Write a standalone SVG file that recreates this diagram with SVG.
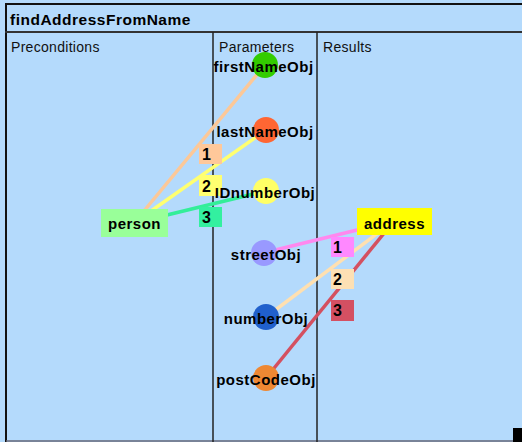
<svg xmlns="http://www.w3.org/2000/svg" width="522" height="442" viewBox="0 0 522 442">
<style>
.bg{fill:#b4dafc}
.frame{stroke:#111;stroke-width:2;fill:none}
.col{stroke:#222;stroke-width:1.5}
.title{font-family:"Liberation Sans",Arial,sans-serif;font-weight:bold;font-size:15.5px;letter-spacing:0.5px;fill:#000}
.head{font-family:"Liberation Sans",Arial,sans-serif;font-size:14px;letter-spacing:0.3px;fill:#111}
.lbl{font-family:"Liberation Sans",Arial,sans-serif;font-weight:bold;font-size:15px;letter-spacing:0.5px;fill:#000;text-anchor:middle}
.num{font-family:"Liberation Sans",Arial,sans-serif;font-weight:bold;font-size:16px;fill:#000}
.edge{stroke-width:3.5;fill:none}
</style>
<rect class="bg" x="0" y="0" width="522" height="442"/>
<line x1="5" y1="4" x2="522" y2="4" class="frame"/>
<line x1="6" y1="3" x2="6" y2="442" class="frame"/>
<line x1="5" y1="32" x2="522" y2="32" stroke="#333" stroke-width="2"/>
<line x1="6" y1="441" x2="522" y2="441" stroke="#667" stroke-width="1.5"/>
<line x1="213" y1="32" x2="213" y2="442" class="col"/>
<line x1="317" y1="32" x2="317" y2="442" class="col"/>
<rect x="513" y="428" width="9" height="14" fill="#000"/>
<text class="title" x="10" y="25">findAddressFromName</text>
<text class="head" x="11" y="52">Preconditions</text>
<text class="head" x="219" y="52">Parameters</text>
<text class="head" x="323" y="52">Results</text>

<g id="connectors">
<line class="edge" x1="134" y1="223" x2="265" y2="65" stroke="#fcc898"/>
<line class="edge" x1="134" y1="223" x2="266" y2="130" stroke="#ffff70"/>
<line class="edge" x1="134" y1="223" x2="266" y2="191" stroke="#33ee99"/>
<line class="edge" x1="394" y1="221" x2="263" y2="253" stroke="#ff88ee"/>
<line class="edge" x1="394" y1="221" x2="266" y2="317" stroke="#ffe0b0"/>
<line class="edge" x1="394" y1="221" x2="266" y2="378" stroke="#d45060"/>
<g id="labels-left">
<rect x="199" y="144" width="23" height="20" fill="#ffc89a"/><text class="num" x="202" y="160">1</text>
<rect x="199" y="175" width="23" height="21" fill="#ffff70"/><text class="num" x="202" y="192">2</text>
<rect x="199" y="207" width="23" height="20" fill="#33f0a0"/><text class="num" x="202" y="223">3</text>
</g>
<g id="labels-right">
<rect x="331" y="237" width="23" height="20" fill="#ff88ff"/><text class="num" x="333" y="253">1</text>
<rect x="331" y="269" width="23" height="20" fill="#fde0b4"/><text class="num" x="333" y="285">2</text>
<rect x="331" y="300" width="23" height="21" fill="#d45062"/><text class="num" x="333" y="316">3</text>
</g>
</g>

<g id="person"><rect x="101" y="209" width="67" height="28" fill="#99ff99"/><text class="lbl" x="134.5" y="229">person</text></g>
<g id="address"><rect x="357" y="208" width="75" height="27" fill="#ffff00"/><text class="lbl" x="394.5" y="229">address</text></g>

<g id="firstNameObj"><circle cx="265" cy="65" r="13" fill="#33cc00"/><text class="lbl" x="263.5" y="72">firstNameObj</text></g>
<g id="lastNameObj"><circle cx="266" cy="130" r="13" fill="#ff6633"/><text class="lbl" x="265" y="137">lastNameObj</text></g>
<g id="IDnumberObj"><circle cx="266" cy="191" r="13" fill="#ffff66"/><text class="lbl" x="265" y="198">IDnumberObj</text></g>
<g id="streetObj"><circle cx="264" cy="253" r="13" fill="#9999ff"/><text class="lbl" x="266" y="260">streetObj</text></g>
<g id="numberObj"><circle cx="266" cy="317" r="13" fill="#2060cc"/><text class="lbl" x="266" y="324">numberObj</text></g>
<g id="postCodeObj"><circle cx="266" cy="378" r="13" fill="#ee8833"/><text class="lbl" x="266" y="385">postCodeObj</text></g>
</svg>
